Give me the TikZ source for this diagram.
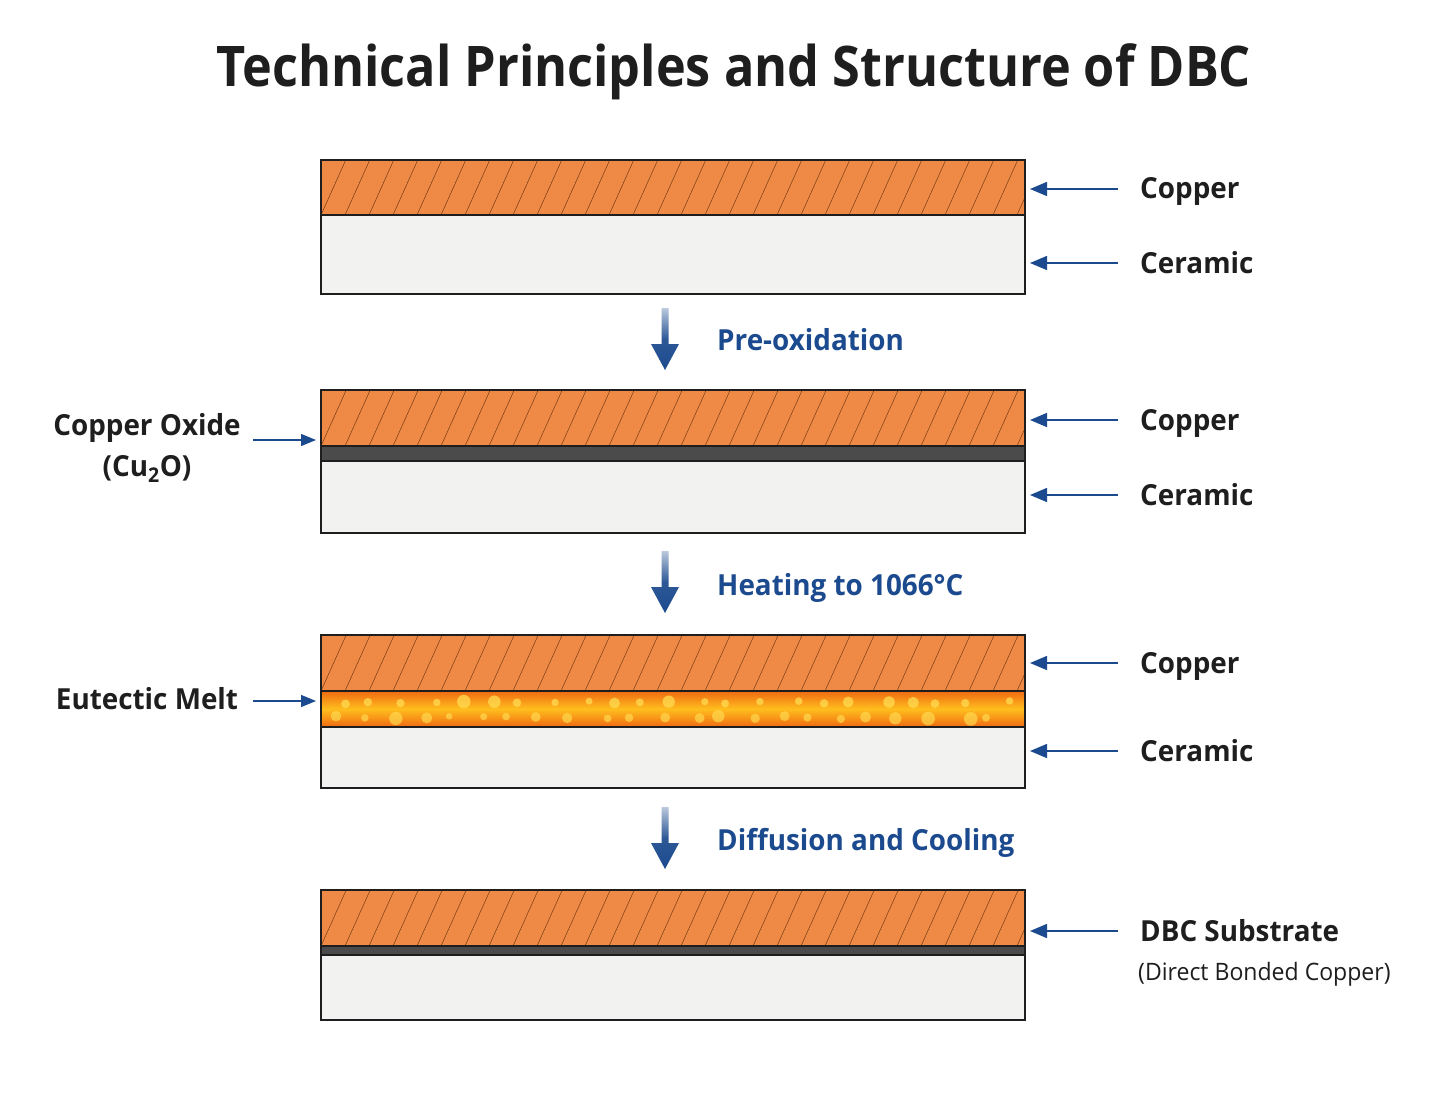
\documentclass[tikz,border=0pt]{standalone}
\usepackage{fontspec}
\setmainfont[FakeStretch=0.96]{Open Sans}
\newfontfamily\titlefont[FakeStretch=0.9]{Open Sans}
\usetikzlibrary{arrows.meta,calc}
\definecolor{cu}{HTML}{EE8A45}
\definecolor{hatchc}{HTML}{6E3410}
\definecolor{cer}{HTML}{F2F2F0}
\definecolor{oxi}{HTML}{4B4B4B}
\definecolor{ablue}{HTML}{1B4A8E}
\definecolor{ink}{HTML}{1E1E1E}
\definecolor{meltA}{HTML}{F06A12}
\definecolor{meltB}{HTML}{FFBE1E}
\definecolor{dotc}{HTML}{FFD84E}
\tikzset{
  layer/.style={draw=ink, line width=1.6pt, rectangle, minimum width=704pt,
    inner sep=0pt, outer sep=0pt, anchor=north west},
  copperlayer/.style={layer, fill=cu, minimum height=#1,
    path picture={
      \foreach \i in {-3,...,31}
        \draw[hatchc, line width=0.45pt]
          ([xshift=\i*24pt]path picture bounding box.south west) -- ++(27,-60);
    }},
  ceramiclayer/.style={layer, fill=cer, minimum height=#1},
  oxidelayer/.style={layer, fill=oxi, minimum height=#1},
  meltlayer/.style={layer, minimum height=#1,
    path picture={
      \shade[top color=meltA, bottom color=meltA, middle color=meltB]
        (path picture bounding box.north west) rectangle (path picture bounding box.south east);
      \pgfmathsetseed{11}
      \foreach \k in {0,...,22}{
        \pgfmathsetmacro\dx{14+\k*30+rnd*16}
        \pgfmathsetmacro\dy{10+rnd*3}
        \pgfmathsetmacro\rr{3+rnd*4}
        \fill[dotc, opacity=0.8] (path picture bounding box.north west) ++(\dx,\dy) circle[radius=\rr];
        \pgfmathsetmacro\ex{4+\k*30+rnd*16}
        \pgfmathsetmacro\ey{25+rnd*3}
        \pgfmathsetmacro\rs{3+rnd*4}
        \fill[dotc, opacity=0.7] (path picture bounding box.north west) ++(\ex,\ey) circle[radius=\rs];
      }
    }},
  ptr/.style={draw=ablue, line width=1.5pt, -{Triangle[length=17pt,width=14pt]}},
  lptr/.style={draw=ablue, line width=1.3pt, -{Triangle[length=15pt,width=12pt]}},
  rlabel/.style={anchor=base west, inner sep=0pt, text=ink, font=\fontsize{29}{34}\selectfont\bfseries},
  llabel/.style={anchor=base, inner sep=0pt, text=ink, font=\fontsize{29}{34}\selectfont\bfseries},
  steplabel/.style={anchor=base west, inner sep=0pt, text=ablue, font=\fontsize{29}{34}\selectfont\bfseries},
  pics/flowdown/.style={code={
    \shade[top color=ablue!30, bottom color=ablue, middle color=ablue!92]
      (-3.5,0) -- (3.5,0) -- (3.5,36) -- (14,36) -- (0,62) -- (-14,36) -- (-3.5,36) -- cycle;
  }},
}
\begin{document}
\begin{tikzpicture}[x=1pt,y=-1pt]
\useasboundingbox[fill=white] (0,0) rectangle (1431,1099);

% title
\node[text=ink, font=\titlefont\fontsize{56}{64}\selectfont\bfseries, inner sep=0pt, anchor=base] (title) at (734,87) {Technical Principles and Structure of DBC};

% block 1
\node[ceramiclayer=79pt] (ce1) at (321,215) {};
\node[copperlayer=55pt] (cu1) at (321,160) {};
% block 2
\node[ceramiclayer=72pt] (ce2) at (321,461) {};
\node[oxidelayer=15pt] (ox2) at (321,446) {};
\node[copperlayer=56pt] (cu2) at (321,390) {};
% block 3
\node[ceramiclayer=61pt] (ce3) at (321,727) {};
\node[meltlayer=36pt] (eu3) at (321,691) {};
\node[copperlayer=56pt] (cu3) at (321,635) {};
% block 4
\node[ceramiclayer=65pt] (ce4) at (321,955) {};
\node[oxidelayer=9pt] (ox4) at (321,946) {};
\node[copperlayer=56pt] (cu4) at (321,890) {};

% step arrows and labels
\pic at (665,308) {flowdown};
\pic at (665,551) {flowdown};
\pic at (665,807) {flowdown};
\node[steplabel] (s1) at (717,350) {Pre-oxidation};
\node[steplabel] (s2) at (717,595) {Heating to 1066°C};
\node[steplabel] (s3) at (717,850) {Diffusion and Cooling};

% right labels
\node[rlabel] (lc1) at (1140,199) {Copper};
\node[rlabel] (lk1) at (1140,273) {Ceramic};
\node[rlabel] (lc2) at (1140,430) {Copper};
\node[rlabel] (lk2) at (1140,505) {Ceramic};
\node[rlabel] (lc3) at (1140,673) {Copper};
\node[rlabel] (lk3) at (1140,761) {Ceramic};
\node[rlabel] (ld4) at (1140,941) {DBC Substrate};
\node[anchor=base west, inner sep=0pt, text=ink, font=\fontsize{24}{28}\selectfont] (ld4b) at (1138,980) {(Direct Bonded Copper)};

\foreach \l/\b in {lc1/cu1, lk1/ce1, lc2/cu2, lk2/ce2, lc3/cu3, lk3/ce3, ld4/cu4}
  \draw[ptr] ($(\l.base west)+(-22,-10)$) -- ($(\l.base west -| \b.east)+(5,-10)$);

% left labels
\node[llabel] (lox) at (147,435) {Copper Oxide};
\node[llabel] (lox2) at (147,476) {(Cu\textsubscript{2}O)};
\node[llabel] (leu) at (147,709) {Eutectic Melt};
\coordinate (oxs) at (253,440);
\coordinate (eus) at (253,701);
\draw[lptr] (oxs) -- ($(oxs -| ox2.west)+(-5,0)$);
\draw[lptr] (eus) -- ($(eus -| eu3.west)+(-5,0)$);
\end{tikzpicture}
\end{document}
